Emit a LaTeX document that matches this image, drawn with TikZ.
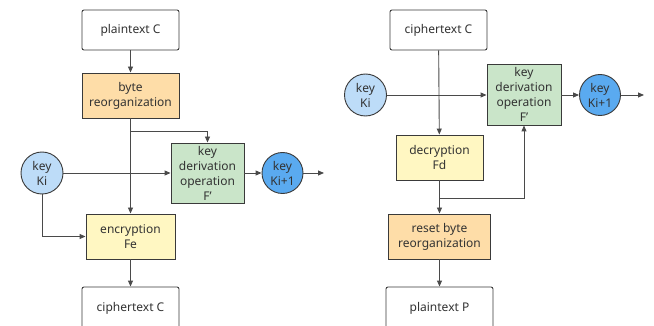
\documentclass[tikz,border=0pt]{standalone}
\usepackage{fontspec}
\setmainfont{Noto Sans}
\usetikzlibrary{arrows.meta}
\definecolor{edgegray}{HTML}{3A3A3A}
\definecolor{linegray}{HTML}{4A4A4A}
\definecolor{txtgray}{HTML}{333333}
\definecolor{orangefill}{HTML}{FEDDA8}
\definecolor{greenfill}{HTML}{CAE5C9}
\definecolor{yellowfill}{HTML}{FFF7C2}
\definecolor{keyblue}{HTML}{BDDCF8}
\definecolor{nextblue}{HTML}{5AAAF0}
\tikzset{
  base/.style={draw=edgegray, line width=0.9pt, align=center, inner sep=1pt,
    text=txtgray, font=\fontsize{12}{15}\selectfont},
  io/.style={base, fill=white, rounded corners=2pt},
  reorg/.style={base, fill=orangefill},
  derive/.style={base, fill=greenfill},
  cipher/.style={base, fill=yellowfill},
  keyin/.style={base, circle, fill=keyblue, minimum size=42pt},
  keyout/.style={base, circle, fill=nextblue, minimum size=41pt},
  arr/.style={draw=linegray, line width=0.9pt, -{Triangle[length=6pt,width=5pt]}},
  ln/.style={draw=linegray, line width=0.9pt}
}
\begin{document}
\begin{tikzpicture}[x=1pt, y=-1pt]
\useasboundingbox (0,0) rectangle (654,326);
\begin{scope}
\clip (0,0) rectangle (654,326);

% encryption side
\node[io, minimum width=97pt, minimum height=40pt] (pC) at (130.5,30) {plaintext C};
\node[reorg, minimum width=97pt, minimum height=45pt] (br) at (130.5,95.5) {byte\\reorganization};
\node[derive, minimum width=73pt, minimum height=60pt] (kd1) at (207.5,173) {key\\derivation\\operation\\F'};
\node[keyin] (ki1) at (42,173) {key\\Ki};
\node[keyout] (kn1) at (282.5,173) {key\\Ki+1};
\node[cipher, minimum width=89pt, minimum height=45pt] (enc) at (130.5,236.5) {encryption\\Fe};
\node[io, minimum width=97pt, minimum height=42pt] (cC) at (130.5,308) {ciphertext C};
\coordinate (b1) at (130.5,131);
\coordinate (o1) at (324,173);

\draw[arr] (pC) -- (br);
\draw[arr] (br) -- (enc);
\draw[arr] (b1) -| (kd1.north);
\draw[arr] (ki1) -- (kd1);
\draw[arr] (ki1.south) |- (enc.west);
\draw[arr] (kd1) -- (kn1);
\draw[arr] (kn1) -- (o1);
\draw[arr] (enc) -- (cC);

% decryption side
\node[io, minimum width=97pt, minimum height=40pt] (cC2) at (438.5,30) {ciphertext C};
\node[keyin] (ki2) at (365.5,95) {key\\Ki};
\node[derive, minimum width=74pt, minimum height=61pt] (kd2) at (524,94.5) {key\\derivation\\operation\\F'};
\node[keyout] (kn2) at (600,95) {key\\Ki+1};
\node[cipher, minimum width=87pt, minimum height=45pt] (dec) at (439.5,157.5) {decryption\\Fd};
\node[reorg, minimum width=102pt, minimum height=45pt] (rb) at (439.5,236.5) {reset byte\\reorganization};
\node[io, minimum width=107pt, minimum height=42pt] (pP) at (439.5,308) {plaintext P};
\coordinate (b2) at (439.5,198);
\coordinate (o2) at (644,95);

\draw[arr] (cC2) -- (dec);
\draw[arr] (ki2) -- (ki2 -| kd2.west);
\draw[arr] (kd2.east |- kn2) -- (kn2);
\draw[arr] (kn2) -- (o2);
\draw[arr] (dec) -- (rb);
\draw[arr] (b2) -| (kd2.south);
\draw[arr] (rb) -- (pP);
\end{scope}
\end{tikzpicture}
\end{document}
